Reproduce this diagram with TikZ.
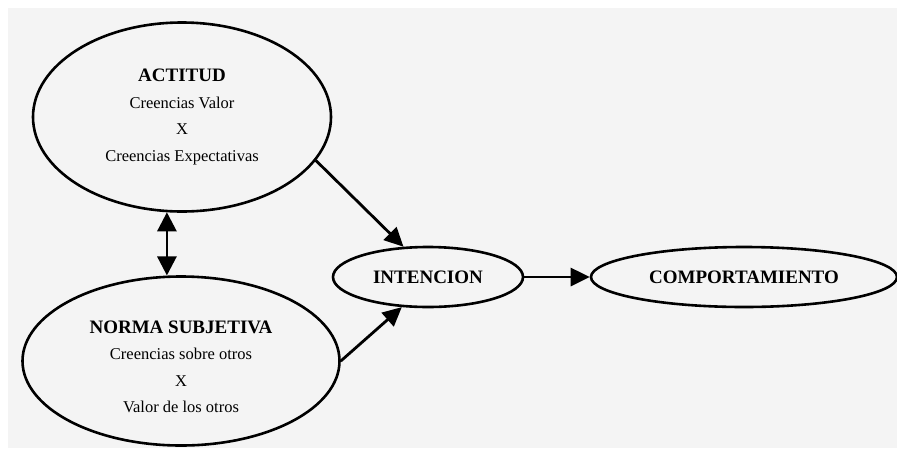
\documentclass[tikz,border=0pt]{standalone}
\usepackage{fontspec}
\setmainfont{Liberation Serif}
\usetikzlibrary{shapes.geometric,arrows.meta}
\definecolor{paper}{RGB}{244,244,244}

\begin{document}
\begin{tikzpicture}[x=1pt,y=-1pt,
bignode/.style={ellipse, draw=black, line width=2.6pt, inner sep=0pt, align=center, font=\fontsize{16.5}{26.5}\selectfont},
smallnode/.style={ellipse, draw=black, line width=2.6pt, inner sep=0pt, minimum height=60pt, font=\fontsize{19}{22}\selectfont\bfseries},
link/.style={line width=2.8pt, -{Triangle[length=19pt,width=18pt]}},
dlink/.style={line width=2.8pt, {Triangle[length=19pt,width=19pt]}-{Triangle[length=19pt,width=19pt]}}
]
    \useasboundingbox (0,0) rectangle (897,448);
    \fill[paper] (8,8) rectangle (897,448);

    \node[bignode, minimum width=298pt, minimum height=189pt] (actitud) at (182,117)
        {{\fontsize{19}{26.5}\selectfont\bfseries ACTITUD}\\Creencias Valor\\X\\Creencias Expectativas};
    \node[bignode, minimum width=317pt, minimum height=169pt] (norma) at (181,361)
        {\rule{0pt}{24pt}{\fontsize{19}{26.5}\selectfont\bfseries NORMA SUBJETIVA}\\Creencias sobre otros\\X\\Valor de los otros};

    \node[smallnode, minimum width=190pt] (intencion) at (428,277) {INTENCION};
    \node[smallnode, minimum width=306pt] (comportamiento) at (744,277) {COMPORTAMIENTO};

    \draw[dlink] (actitud.261.6) -- (actitud.261.6 |- norma.98.7);
    \draw[link] (actitud.-18) -- (intencion.129);
    \draw[link] (norma.east) -- (intencion.229);
    \draw[link] (intencion.east) -- (comportamiento.west);
\end{tikzpicture}
\end{document}
